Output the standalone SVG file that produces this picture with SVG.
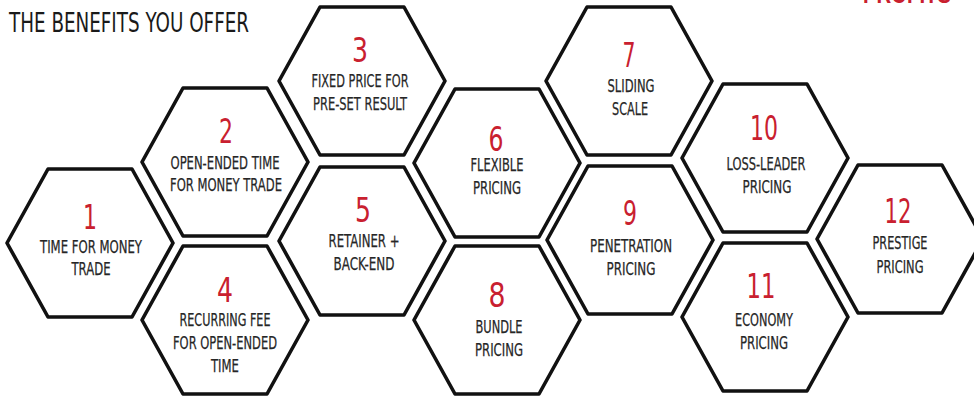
<svg xmlns="http://www.w3.org/2000/svg" width="974" height="398" viewBox="0 0 974 398">
<defs>
<style>
.hex{fill:#fff;stroke:#111;stroke-width:3.6;stroke-linejoin:round}
.lbl{font-family:"Liberation Sans Narrow","DejaVu Sans Condensed","Liberation Sans",sans-serif;font-size:18px;fill:#262626;stroke:#262626;stroke-width:0.25;text-anchor:middle}
.num{font-family:"Liberation Sans Narrow","DejaVu Sans","Liberation Sans",sans-serif;font-size:33px;fill:#c9202f;text-anchor:middle}
.title{font-family:"Liberation Sans Narrow","DejaVu Sans Condensed","Liberation Sans",sans-serif;font-size:27px;fill:#1a1a1a}
.red{font-family:"Liberation Sans","DejaVu Sans",sans-serif;font-weight:bold;font-size:26px;fill:#c9202f}
</style>
<polygon id="hx" points="-83,0 -42,-74 42,-74 83,0 42,74 -42,74"/>
</defs>
<rect width="974" height="398" fill="#fff"/>
<text class="title" x="9" y="32" textLength="240" lengthAdjust="spacingAndGlyphs">THE BENEFITS YOU OFFER</text>
<text class="red" x="863" y="3" textLength="88" lengthAdjust="spacingAndGlyphs">PROFITS</text>
<g id="connectors"/>
<g id="hex1">
<use href="#hx" class="hex" transform="translate(90,243)"/>
<text class="num" x="90" y="229" textLength="14" lengthAdjust="spacingAndGlyphs">1</text>
<text class="lbl" x="91" y="253" textLength="102" lengthAdjust="spacingAndGlyphs">TIME FOR MONEY</text>
<text class="lbl" x="91" y="275" textLength="39" lengthAdjust="spacingAndGlyphs">TRADE</text>
</g>
<g id="hex2">
<use href="#hx" class="hex" transform="translate(225,162)"/>
<text class="num" x="226" y="143" textLength="14" lengthAdjust="spacingAndGlyphs">2</text>
<text class="lbl" x="225" y="169" textLength="109" lengthAdjust="spacingAndGlyphs">OPEN-ENDED TIME</text>
<text class="lbl" x="226" y="191" textLength="112" lengthAdjust="spacingAndGlyphs">FOR MONEY TRADE</text>
</g>
<g id="hex3">
<use href="#hx" class="hex" transform="translate(362,81)"/>
<text class="num" x="360" y="62" textLength="16" lengthAdjust="spacingAndGlyphs">3</text>
<text class="lbl" x="360" y="87" textLength="97" lengthAdjust="spacingAndGlyphs">FIXED PRICE FOR</text>
<text class="lbl" x="360" y="110" textLength="94" lengthAdjust="spacingAndGlyphs">PRE-SET RESULT</text>
</g>
<g id="hex4">
<use href="#hx" class="hex" transform="translate(225,320)"/>
<text class="num" x="225" y="302" textLength="16" lengthAdjust="spacingAndGlyphs">4</text>
<text class="lbl" x="225" y="326" textLength="91" lengthAdjust="spacingAndGlyphs">RECURRING FEE</text>
<text class="lbl" x="225" y="349" textLength="104" lengthAdjust="spacingAndGlyphs">FOR OPEN-ENDED</text>
<text class="lbl" x="225" y="372" textLength="28" lengthAdjust="spacingAndGlyphs">TIME</text>
</g>
<g id="hex5">
<use href="#hx" class="hex" transform="translate(362,241)"/>
<text class="num" x="363" y="222" textLength="16" lengthAdjust="spacingAndGlyphs">5</text>
<text class="lbl" x="364" y="247" textLength="71" lengthAdjust="spacingAndGlyphs">RETAINER +</text>
<text class="lbl" x="364" y="270" textLength="61" lengthAdjust="spacingAndGlyphs">BACK-END</text>
</g>
<g id="hex6">
<use href="#hx" class="hex" transform="translate(497,163)"/>
<text class="num" x="496" y="151" textLength="15" lengthAdjust="spacingAndGlyphs">6</text>
<text class="lbl" x="497" y="171" textLength="53" lengthAdjust="spacingAndGlyphs">FLEXIBLE</text>
<text class="lbl" x="497" y="194" textLength="48" lengthAdjust="spacingAndGlyphs">PRICING</text>
</g>
<g id="hex7">
<use href="#hx" class="hex" transform="translate(629,81)"/>
<text class="num" x="629" y="67" textLength="13" lengthAdjust="spacingAndGlyphs">7</text>
<text class="lbl" x="631" y="92" textLength="47" lengthAdjust="spacingAndGlyphs">SLIDING</text>
<text class="lbl" x="630" y="115" textLength="36" lengthAdjust="spacingAndGlyphs">SCALE</text>
</g>
<g id="hex8">
<use href="#hx" class="hex" transform="translate(497,320)"/>
<text class="num" x="497" y="307" textLength="17" lengthAdjust="spacingAndGlyphs">8</text>
<text class="lbl" x="499" y="333" textLength="47" lengthAdjust="spacingAndGlyphs">BUNDLE</text>
<text class="lbl" x="499" y="356" textLength="48" lengthAdjust="spacingAndGlyphs">PRICING</text>
</g>
<g id="hex9">
<use href="#hx" class="hex" transform="translate(630,240)"/>
<text class="num" x="630" y="225" textLength="14" lengthAdjust="spacingAndGlyphs">9</text>
<text class="lbl" x="631" y="252" textLength="82" lengthAdjust="spacingAndGlyphs">PENETRATION</text>
<text class="lbl" x="631" y="275" textLength="49" lengthAdjust="spacingAndGlyphs">PRICING</text>
</g>
<g id="hex10">
<use href="#hx" class="hex" transform="translate(765,158)"/>
<text class="num" x="764" y="140" textLength="28" lengthAdjust="spacingAndGlyphs">10</text>
<text class="lbl" x="766" y="170" textLength="79" lengthAdjust="spacingAndGlyphs">LOSS-LEADER</text>
<text class="lbl" x="767" y="193" textLength="49" lengthAdjust="spacingAndGlyphs">PRICING</text>
</g>
<g id="hex11">
<use href="#hx" class="hex" transform="translate(765,317)"/>
<text class="num" x="761" y="298" textLength="29" lengthAdjust="spacingAndGlyphs">11</text>
<text class="lbl" x="764" y="326" textLength="58" lengthAdjust="spacingAndGlyphs">ECONOMY</text>
<text class="lbl" x="764" y="349" textLength="48" lengthAdjust="spacingAndGlyphs">PRICING</text>
</g>
<g id="hex12">
<use href="#hx" class="hex" transform="translate(900,239)"/>
<text class="num" x="898" y="223" textLength="27" lengthAdjust="spacingAndGlyphs">12</text>
<text class="lbl" x="900" y="249" textLength="55" lengthAdjust="spacingAndGlyphs">PRESTIGE</text>
<text class="lbl" x="900" y="273" textLength="47" lengthAdjust="spacingAndGlyphs">PRICING</text>
</g>
</svg>
